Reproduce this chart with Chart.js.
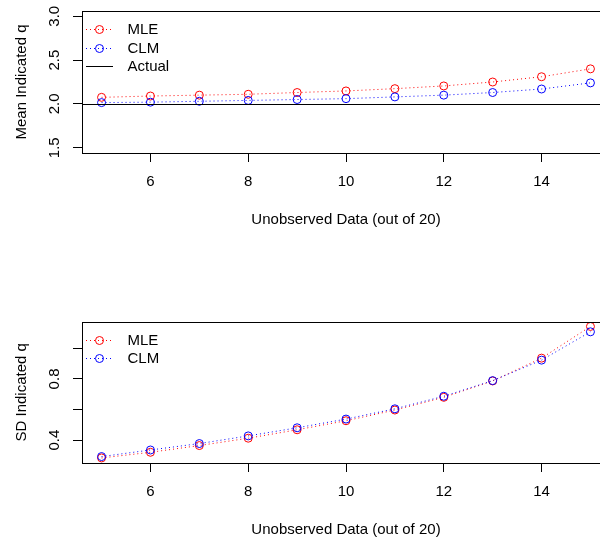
<!DOCTYPE html>
<html lang="en">
<head>
<meta charset="UTF-8" />
<title>Indicated q: MLE vs CLM</title>
<style>
  html, body { margin: 0; padding: 0; background: #fff; overflow: hidden; }
  .panel { width: 620px; height: 270px; }
  canvas { display: block; }
</style>
</head>
<body>
<div class="panel"><canvas id="meanChart" width="620" height="270"></canvas></div>
<div class="panel"><canvas id="sdChart" width="620" height="270"></canvas></div>

<script src="https://cdn.jsdelivr.net/npm/chart.js"></script>
<script>
  // x: unobserved data points (out of 20)
  const unobserved = [5, 6, 7, 8, 9, 10, 11, 12, 13, 14, 15];
  const xTicks = [6, 8, 10, 12, 14];

  // top panel - mean indicated q
  const meanMLE = [2.075, 2.09, 2.10, 2.11, 2.13, 2.148, 2.174, 2.205, 2.25, 2.31, 2.40];
  const meanCLM = [2.015, 2.02, 2.03, 2.04, 2.05, 2.06, 2.08, 2.10, 2.13, 2.17, 2.24];
  const actualQ = 2.0;
  const meanTicks = [1.5, 2.0, 2.5, 3.0];

  // bottom panel - SD of indicated q
  const sdMLE = [0.284, 0.321, 0.365, 0.413, 0.468, 0.527, 0.597, 0.680, 0.787, 0.936, 1.143];
  const sdCLM = [0.293, 0.336, 0.378, 0.428, 0.481, 0.538, 0.605, 0.687, 0.789, 0.923, 1.108];
  const sdTicks = [0.4, 0.6, 0.8, 1.0];
  const sdLabelled = [0.4, 0.8]; // R drops the labels that would overlap

  const FONT = "'Liberation Sans', Arial, Helvetica, sans-serif";
  Chart.defaults.font.family = FONT;
  Chart.defaults.font.size = 15;
  Chart.defaults.color = '#000';

  function series(label, ys, color, order) {
    return {
      label: label,
      order: order,
      data: unobserved.map((x, i) => ({ x: x, y: ys[i] })),
      borderColor: color,
      borderWidth: 1,
      borderDash: [1, 3],
      pointRadius: 4,
      pointHoverRadius: 4,
      pointBorderColor: color,
      pointBackgroundColor: 'rgba(0,0,0,0)',
      pointBorderWidth: 1,
      fill: false,
      tension: 0
    };
  }

  // black box round the plot region
  const frame = {
    id: 'frame',
    afterDraw(chart) {
      const { ctx, chartArea: a } = chart;
      ctx.save();
      ctx.strokeStyle = '#000';
      ctx.lineWidth = 1;
      ctx.strokeRect(Math.round(a.left) + 0.5, Math.round(a.top) + 0.5,
                     Math.round(a.right - a.left), Math.round(a.bottom - a.top));
      ctx.restore();
    }
  };

  // horizontal line for the true value (abline)
  const refLine = {
    id: 'refLine',
    afterDatasetsDraw(chart, args, opts) {
      if (opts.value == null) return;
      const { ctx, chartArea: a } = chart;
      const y = Math.round(chart.scales.y.getPixelForValue(opts.value)) + 0.5;
      ctx.save();
      ctx.strokeStyle = '#000';
      ctx.lineWidth = 1;
      ctx.beginPath();
      ctx.moveTo(a.left, y);
      ctx.lineTo(a.right, y);
      ctx.stroke();
      ctx.restore();
    }
  };

  // legend inside the top-left corner
  const insetLegend = {
    id: 'insetLegend',
    afterDraw(chart, args, opts) {
      const { ctx, chartArea: a } = chart;
      const items = chart.data.datasets.map(d => ({ text: d.label, color: d.borderColor, dash: d.borderDash, point: true }));
      (opts.extra || []).forEach(e => items.push(e));
      ctx.save();
      ctx.font = '15px ' + FONT;
      ctx.textBaseline = 'middle';
      ctx.textAlign = 'left';
      items.forEach((it, i) => {
        const y = Math.round(a.top + 18 + i * 18.7) + 0.5;
        ctx.strokeStyle = it.color;
        ctx.lineWidth = 1;
        ctx.setLineDash(it.dash || []);
        ctx.beginPath();
        ctx.moveTo(a.left + 4, y);
        ctx.lineTo(a.left + 31, y);
        ctx.stroke();
        ctx.setLineDash([]);
        if (it.point) {
          ctx.beginPath();
          ctx.arc(a.left + 17.5, y, 4, 0, Math.PI * 2);
          ctx.stroke();
        }
        ctx.fillStyle = '#000';
        ctx.fillText(it.text, a.left + 45.5, y);
      });
      ctx.restore();
    }
  };

  // pad: space above the box, axisH: height of the x axis strip, titlePad: gap under x title
  function makeOptions(pad, axisH, titlePad, yMin, yMax, yTicks, yTitle, yLabel, extraLegend, refValue) {
    return {
      responsive: false,
      animation: false,
      events: [],
      layout: { padding: { top: pad, right: 10, left: 0, bottom: 0 } },
      plugins: {
        legend: { display: false },
        tooltip: { enabled: false },
        insetLegend: { extra: extraLegend },
        refLine: { value: refValue }
      },
      scales: {
        x: {
          type: 'linear',
          min: 4.6,
          max: 15.4,
          afterBuildTicks: s => { s.ticks = xTicks.map(v => ({ value: v })); },
          afterFit: s => { s.height = axisH; s.paddingLeft = 0; s.paddingRight = 0; },
          grid: { drawOnChartArea: false, color: '#000', lineWidth: 1, tickLength: 9 },
          border: { display: false },
          ticks: { padding: 11, maxRotation: 0, autoSkip: false, color: '#000' },
          title: { display: true, text: 'Unobserved Data (out of 20)', color: '#000', padding: { top: 0, bottom: titlePad } }
        },
        y: {
          type: 'linear',
          min: yMin,
          max: yMax,
          afterBuildTicks: s => { s.ticks = yTicks.map(v => ({ value: v })); },
          afterFit: s => { s.width = 82; s.paddingTop = 0; s.paddingBottom = 0; },
          grid: { drawOnChartArea: false, color: '#000', lineWidth: 1, tickLength: 9 },
          border: { display: false },
          ticks: { padding: 8, minRotation: 90, maxRotation: 90, crossAlign: 'center', autoSkip: false, color: '#000', callback: yLabel },
          title: { display: true, text: yTitle, color: '#000', padding: { top: 13, bottom: 0 } }
        }
      }
    };
  }

  new Chart(document.getElementById('meanChart'), {
    type: 'line',
    data: { datasets: [series('MLE', meanMLE, 'rgb(255,0,0)', 2), series('CLM', meanCLM, 'rgb(0,0,255)', 1)] },
    options: makeOptions(11, 117, 41, 1.44, 3.06, meanTicks, 'Mean Indicated q',
      v => v.toFixed(1),
      [{ text: 'Actual', color: '#000', dash: [], point: false }],
      actualQ),
    plugins: [frame, refLine, insetLegend]
  });

  new Chart(document.getElementById('sdChart'), {
    type: 'line',
    data: { datasets: [series('MLE', sdMLE, 'rgb(255,0,0)', 2), series('CLM', sdCLM, 'rgb(0,0,255)', 1)] },
    options: makeOptions(51.7, 77, 1, 0.251, 1.174, sdTicks, 'SD Indicated q',
      v => sdLabelled.some(t => Math.abs(t - v) < 1e-9) ? v.toFixed(1) : '',
      [],
      null),
    plugins: [frame, refLine, insetLegend]
  });
</script>
</body>
</html>
